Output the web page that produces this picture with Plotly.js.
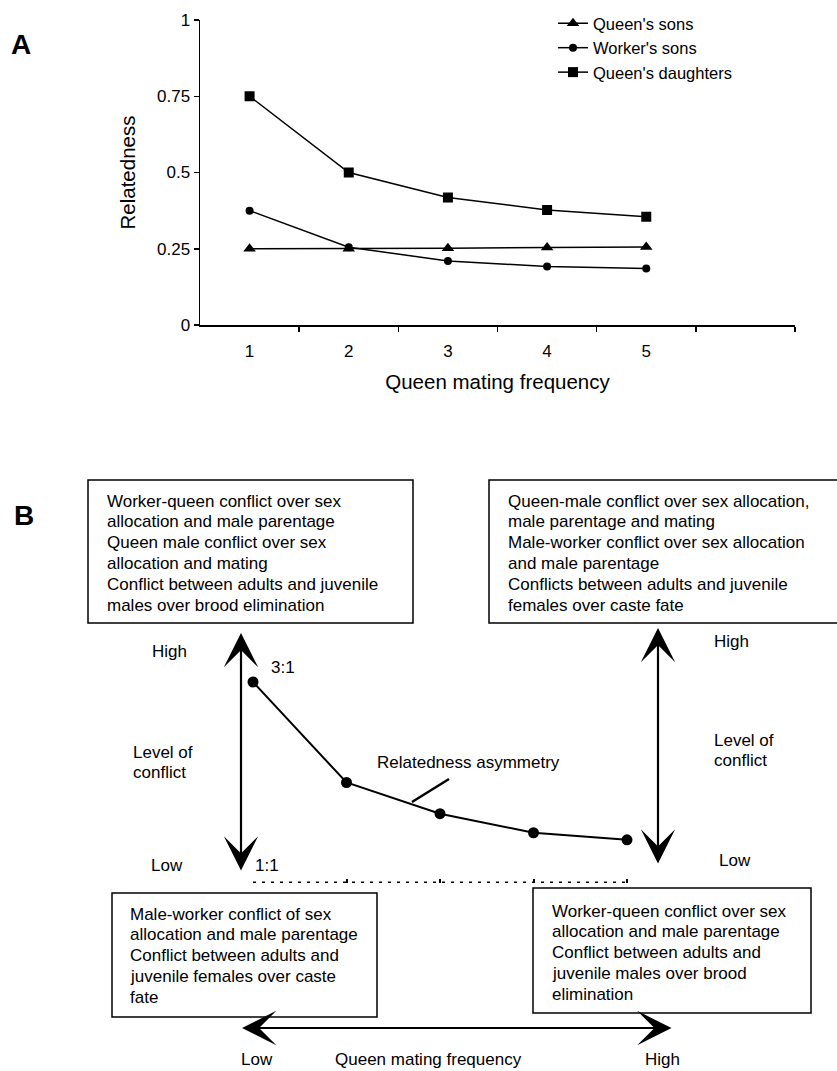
<!DOCTYPE html>
<html>
<head>
<meta charset="utf-8">
<script src="https://cdn.plot.ly/plotly-3.0.1.min.js"></script>
<style>html,body{margin:0;padding:0;background:#fff;}#chart{width:837px;height:1071px;}</style>
</head>
<body>
<div id="chart"></div>
<script>
// ---- Panel A data ----
const matingFreq = [1, 2, 3, 4, 5];
const freqLabels = ['1', '2', '3', '4', '5'];
const queensSons = [0.25, 0.25, 0.252, 0.254, 0.256];
const workersSons = [0.375, 0.255, 0.21, 0.192, 0.185];
const queensDaughters = [0.75, 0.5, 0.418, 0.377, 0.355];
const relTickVals = [0, 0.25, 0.5, 0.75, 1];
const relTickText = ['0', '0.25', '0.5', '0.75', '1'];

// ---- Panel B data (relatedness asymmetry, female:male) ----
const asymFreq = [1, 2, 3, 4, 5];
const asymRatio = [3, 2, 1.69, 1.5, 1.43];
const baselineRatio = [1, 1, 1, 1, 1];

const W = 837, H = 1071;
const X = p => p / W;
const Y = p => 1 - p / H;
const FONT = 'Liberation Sans, Arial, sans-serif';

const traces = [
  {x: matingFreq, y: queensSons, name: "Queen's sons", mode: 'lines+markers',
   line: {color: '#000', width: 1.5}, marker: {symbol: 'triangle-up', size: 11, color: '#000'}, xaxis: 'x', yaxis: 'y'},
  {x: matingFreq, y: workersSons, name: "Worker's sons", mode: 'lines+markers',
   line: {color: '#000', width: 1.5}, marker: {symbol: 'circle', size: 8, color: '#000'}, xaxis: 'x', yaxis: 'y'},
  {x: matingFreq, y: queensDaughters, name: "Queen's daughters", mode: 'lines+markers',
   line: {color: '#000', width: 1.5}, marker: {symbol: 'square', size: 10, color: '#000'}, xaxis: 'x', yaxis: 'y'},
  {x: asymFreq, y: baselineRatio, mode: 'lines', showlegend: false, cliponaxis: false,
   line: {color: '#000', width: 3, dash: '3px,6px'}, xaxis: 'x2', yaxis: 'y2', hoverinfo: 'skip'},
  {x: asymFreq, y: asymRatio, name: 'Relatedness asymmetry', mode: 'lines+markers', showlegend: false, cliponaxis: false,
   line: {color: '#000', width: 2}, marker: {symbol: 'circle', size: 11, color: '#000'}, xaxis: 'x2', yaxis: 'y2'}
];

function txt(text, x, y, opts) {
  return Object.assign({text: text, x: X(x), y: Y(y), xref: 'paper', yref: 'paper',
    showarrow: false, xanchor: 'left', yanchor: 'middle', align: 'left',
    font: {family: FONT, size: 17, color: '#000'}}, opts || {});
}
function boxLines(lines, x, y0, step) {
  return lines.map((l, i) => txt(l, x, y0 + i * step));
}
function arrow(x, y, ax, ay) {
  return {text: '', x: X(x), y: Y(y), xref: 'paper', yref: 'paper', showarrow: true,
    ax: ax, ay: ay, arrowside: 'end+start', arrowhead: 3, startarrowhead: 3,
    arrowsize: 2.6, startarrowsize: 2.6, arrowwidth: 2.2, arrowcolor: '#000',
    standoff: 0, startstandoff: 0};
}

const annotations = [
  txt('<b>A</b>', 9, 45, {font: {family: FONT, size: 28, color: '#000'}}),
  txt('<b>B</b>', 12, 515, {font: {family: FONT, size: 28, color: '#000'}}),
  ...boxLines(['Worker-queen conflict over sex', 'allocation and male parentage', 'Queen male conflict over sex',
    'allocation and mating', 'Conflict between adults and juvenile', 'males over brood elimination'], 105, 501, 20.9),
  ...boxLines(['Queen-male conflict over sex allocation,', 'male parentage and mating', 'Male-worker conflict over sex allocation',
    'and male parentage', 'Conflicts between adults and juvenile', 'females over caste fate'], 506, 501, 20.9),
  ...boxLines(['Male-worker conflict of sex', 'allocation and male parentage', 'Conflict between adults and',
    'juvenile females over caste', 'fate'], 128, 914, 20.9),
  ...boxLines(['Worker-queen conflict over sex', 'allocation and male parentage', 'Conflict between adults and',
    'juvenile males over brood', 'elimination'], 550, 911, 20.8),
  txt('High', 169, 651, {xanchor: 'center'}),
  txt('Level of', 131, 752),
  txt('conflict', 131, 772),
  txt('Low', 167, 865, {xanchor: 'center'}),
  txt('High', 712, 641),
  txt('Level of', 712, 740),
  txt('conflict', 712, 760),
  txt('Low', 717, 860),
  txt('3:1', 283, 667, {xanchor: 'center'}),
  txt('1:1', 267, 865, {xanchor: 'center'}),
  txt('Relatedness asymmetry', 375, 762),
  txt('Low', 257, 1059, {xanchor: 'center'}),
  txt('Queen mating frequency', 333, 1059),
  txt('High', 662, 1059, {xanchor: 'center'}),
  arrow(241, 633, 0, 239),
  arrow(658, 628, 0, 237),
  arrow(242, 1028, 431, 0)
];

const boxLine = {color: '#000', width: 1.5};
const shapes = [
  {type: 'rect', xref: 'paper', yref: 'paper', x0: X(88), x1: X(413), y0: Y(623), y1: Y(480), line: boxLine},
  {type: 'rect', xref: 'paper', yref: 'paper', x0: X(489), x1: X(842), y0: Y(623), y1: Y(480), line: boxLine},
  {type: 'rect', xref: 'paper', yref: 'paper', x0: X(112), x1: X(377), y0: Y(1017), y1: Y(893), line: boxLine},
  {type: 'rect', xref: 'paper', yref: 'paper', x0: X(533), x1: X(811), y0: Y(1013), y1: Y(888), line: boxLine},
  {type: 'line', xref: 'paper', yref: 'paper', x0: X(412), y0: Y(802), x1: X(449), y1: Y(779), line: {color: '#000', width: 2.5}}
];

const layout = {
  width: W, height: H,
  margin: {l: 0, r: 0, t: 0, b: 0},
  paper_bgcolor: '#fff', plot_bgcolor: 'rgba(0,0,0,0)',
  font: {family: FONT, color: '#000', size: 17},
  showlegend: true,
  legend: {x: X(553), y: Y(6), xanchor: 'left', yanchor: 'top', bgcolor: 'rgba(0,0,0,0)',
    font: {family: FONT, size: 16.5, color: '#000'}, tracegroupgap: 0},
  xaxis: {domain: [X(200), X(795)], range: [0.5, 6.5], anchor: 'y',
    tickmode: 'array', tickvals: matingFreq, ticktext: freqLabels, ticks: '', ticklabelstandoff: 10,
    tickfont: {family: FONT, size: 17, color: '#000'},
    minor: {tickmode: 'array', tickvals: [1.5, 2.5, 3.5, 4.5, 5.5, 6.5], ticks: 'outside', ticklen: 5, tickwidth: 1.5, tickcolor: '#000', showgrid: false},
    showline: true, linecolor: '#000', linewidth: 1.5, showgrid: false, zeroline: false, fixedrange: true,
    title: {text: 'Queen mating frequency', font: {family: FONT, size: 20.5, color: '#000'}, standoff: 14}},
  yaxis: {domain: [Y(325), Y(20)], range: [0, 1], anchor: 'x',
    tickmode: 'array', tickvals: relTickVals, ticktext: relTickText, ticks: 'outside', ticklen: 5, tickwidth: 1.5, tickcolor: '#000',
    tickfont: {family: FONT, size: 17, color: '#000'},
    showline: true, linecolor: '#000', linewidth: 1.5, showgrid: false, zeroline: false, fixedrange: true,
    title: {text: 'Relatedness', font: {family: FONT, size: 20.5, color: '#000'}, standoff: 16}},
  xaxis2: {domain: [X(206.25), X(673.75)], range: [0.5, 5.5], anchor: 'y2',
    tickmode: 'array', tickvals: [2, 3, 4, 5], ticks: 'inside', ticklen: 4, tickwidth: 2, tickcolor: '#000',
    showticklabels: false, showline: false, showgrid: false, zeroline: false, fixedrange: true},
  yaxis2: {domain: [Y(883), Y(682)], range: [1, 3], anchor: 'x2', visible: false, fixedrange: true},
  annotations: annotations,
  shapes: shapes
};

Plotly.newPlot('chart', traces, layout, {displayModeBar: false, staticPlot: true});
</script>
</body>
</html>
